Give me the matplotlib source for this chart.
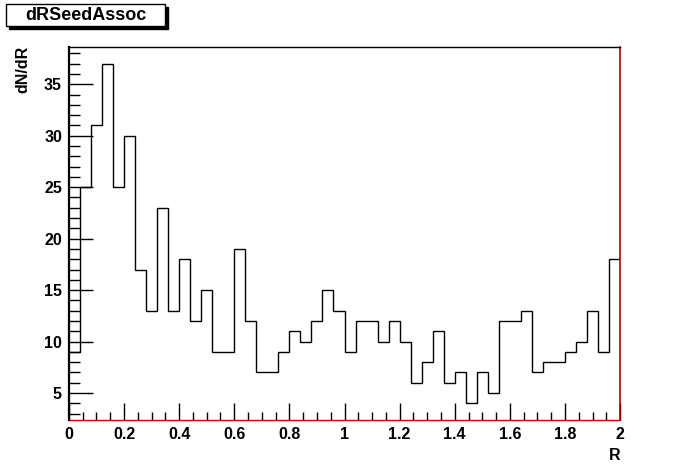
import numpy as np
import matplotlib
matplotlib.use("Agg")
import matplotlib.pyplot as plt
from matplotlib.patches import Rectangle
from matplotlib.ticker import MultipleLocator, FixedLocator

# ---- data ----
title = "dRSeedAssoc"
x_label = "R"
y_label = "dN/dR"
n_bins = 50
x_min, x_max = 0.0, 2.0
counts = [9, 25, 31, 37, 25, 30, 17, 13, 23, 13,
          18, 12, 15, 9, 9, 19, 12, 7, 7, 9,
          11, 10, 12, 15, 13, 9, 12, 12, 10, 12,
          10, 6, 8, 11, 6, 7, 4, 7, 5, 12,
          12, 13, 7, 8, 8, 9, 10, 13, 9, 18]
x_ticks = [0, 0.2, 0.4, 0.6, 0.8, 1.0, 1.2, 1.4, 1.6, 1.8, 2.0]
x_tick_labels = ["0", "0.2", "0.4", "0.6", "0.8", "1", "1.2", "1.4", "1.6", "1.8", "2"]
y_ticks = [5, 10, 15, 20, 25, 30, 35]
y_tick_labels = ["5", "10", "15", "20", "25", "30", "35"]

edges = np.linspace(x_min, x_max, n_bins + 1)
vmin, vmax = min(counts), max(counts)
margin = 0.05 * (vmax - vmin)

plt.rcParams['font.family'] = ['Liberation Sans', 'DejaVu Sans']
plt.rcParams['font.weight'] = 'bold'

fig = plt.figure(figsize=(6.89, 4.67), dpi=100)
fig.patch.set_facecolor('white')
ax = fig.add_axes([0.1, 0.1, 0.8, 0.8])

ax.stairs(counts, edges, color='black', linewidth=1.0, baseline=None)

ax.set_xlim(x_min, x_max)
ax.set_ylim(vmin - margin, vmax + margin)

ax.xaxis.set_major_locator(FixedLocator(x_ticks))
ax.set_xticklabels(x_tick_labels)
ax.xaxis.set_minor_locator(MultipleLocator(0.05))
ax.yaxis.set_major_locator(FixedLocator(y_ticks))
ax.set_yticklabels(y_tick_labels)
ax.yaxis.set_minor_locator(MultipleLocator(1))

ax.tick_params(axis='both', which='both', direction='in', color='black', width=1)
ax.tick_params(axis='x', which='major', length=12, pad=5, labelsize=11.5)
ax.tick_params(axis='x', which='minor', length=6)
ax.tick_params(axis='y', which='major', length=17, pad=5, labelsize=11.5)
ax.tick_params(axis='y', which='minor', length=8)
for lab in ax.get_xticklabels() + ax.get_yticklabels():
    lab.set_fontweight('bold')

ax.spines['left'].set_linewidth(1.6)
ax.spines['left'].set_color('black')
ax.spines['top'].set_linewidth(1.0)
ax.spines['top'].set_color('black')
ax.spines['bottom'].set_color('#cc0000')
ax.spines['bottom'].set_linewidth(1.0)
ax.spines['right'].set_color('#b00000')
ax.spines['right'].set_linewidth(1.2)

# axis titles
fig.text(620 / 689, 1 - 456 / 467, x_label, ha='right', va='center',
         fontsize=11.5, fontweight='bold')
fig.text(23 / 689, 1 - 46 / 467, y_label, ha='center', va='top', rotation=90,
         fontsize=11.5, fontweight='bold')

# title box with shadow
bx0, by0, bx1, by1 = 6, 4, 165, 26
W, H = 689, 467
shadow = Rectangle((bx0 / W + 3 / W, 1 - (by1 + 3) / H), (bx1 - bx0) / W, (by1 - by0) / H,
                   transform=fig.transFigure, facecolor='black', edgecolor='black', zorder=5)
box = Rectangle((bx0 / W, 1 - by1 / H), (bx1 - bx0) / W, (by1 - by0) / H,
                transform=fig.transFigure, facecolor='white', edgecolor='black',
                linewidth=1.0, zorder=6)
fig.patches.extend([shadow, box])
fig.text((bx0 + bx1) / 2 / W, 1 - (by0 + by1) / 2 / H, title, ha='center', va='center',
         fontsize=13, fontweight='bold', zorder=7)

fig.savefig('out.png', dpi=100, facecolor='white')
